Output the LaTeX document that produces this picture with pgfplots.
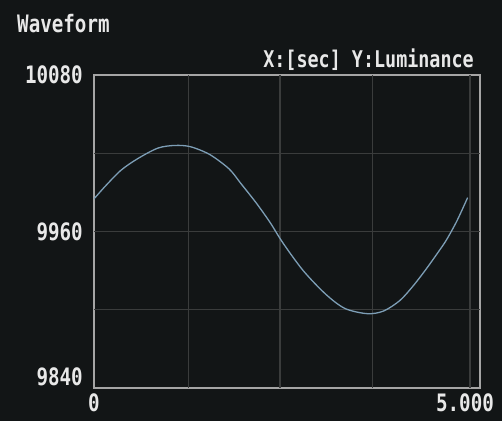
\documentclass[border=0pt]{standalone}
\usepackage{pgfplots}
\pgfplotsset{compat=1.18}
\usepackage{fontspec}
\setmainfont[FakeStretch=0.8]{DejaVu Sans Mono}
\definecolor{bg}{RGB}{18,21,22}
\definecolor{fg}{RGB}{232,232,232}
\definecolor{borderc}{RGB}{165,165,165}
\definecolor{gridc}{RGB}{58,60,60}
\definecolor{wave}{RGB}{125,158,182}
\begin{document}
\begin{tikzpicture}[x=1pt,y=1pt]
\fill[bg] (0,0) rectangle (502,421);
\node[anchor=west,text=fg,inner sep=0pt,font=\fontsize{24}{26}\selectfont\bfseries] at (17,397) {Waveform};
\node[anchor=east,text=fg,inner sep=0pt,font=\fontsize{23}{26}\selectfont\bfseries] at (474,361) {X:[sec] Y:Luminance};
\begin{axis}[
  at={(94pt,33pt)}, anchor=south west,
  scale only axis, width=386pt, height=313pt,
  xmin=0, xmax=5, ymin=9840, ymax=10080,
  scaled y ticks=false, scaled x ticks=false,
  axis line style={draw=borderc, line width=2pt},
  major tick length=0pt,
  xtick={0,5}, xticklabels={0,{\hspace*{-30pt}5.000}},
  ytick={9840,9960,10080}, yticklabels={{\raisebox{22pt}{9840}},9960,10080},
  tick label style={text=fg, font=\fontsize{24}{26}\selectfont\bfseries, inner sep=0pt},
  yticklabel style={anchor=east, xshift=-11pt},
  xticklabel style={anchor=north, yshift=-5pt},
  extra x ticks={1.22,2.41,3.61,4.87},
  extra y ticks={9900,9960,10020},
  extra x tick labels={},
  extra y tick labels={},
  extra tick style={grid=major, major grid style={draw=gridc, line width=1.2pt}},
]
\addplot[wave, line width=1.3pt, smooth] coordinates {
(0.00,9985) (0.15,9995) (0.35,10007) (0.57,10016) (0.83,10024) (1.05,10026)
(1.25,10025) (1.50,10019) (1.75,10008) (1.90,9997) (2.10,9982) (2.28,9967)
(2.45,9951) (2.71,9930) (3.00,9912) (3.25,9901) (3.54,9897) (3.75,9899)
(3.96,9907) (4.13,9918) (4.30,9931) (4.48,9946) (4.57,9954) (4.70,9968) (4.84,9986)
};
\end{axis}
\end{tikzpicture}
\end{document}
